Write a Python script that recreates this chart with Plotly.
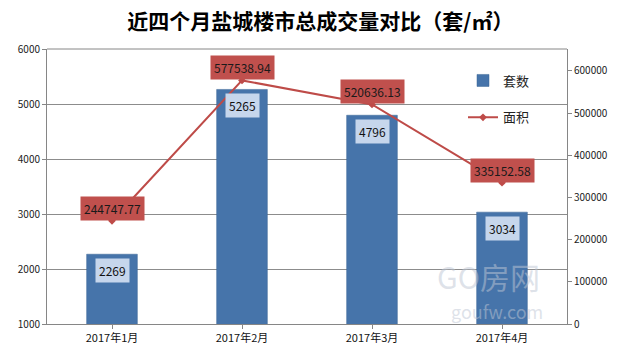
import plotly.graph_objects as go

categories = ["2017年1月", "2017年2月", "2017年3月", "2017年4月"]
units = [2269, 5265, 4796, 3034]
area = [244747.77, 577538.94, 520636.13, 335152.58]
left_ticks = [1000, 2000, 3000, 4000, 5000, 6000]
right_ticks = [0, 100000, 200000, 300000, 400000, 500000, 600000]

FONT = "Noto Sans CJK SC, Microsoft YaHei, sans-serif"

fig = go.Figure()
fig.add_trace(go.Bar(
    x=categories, y=units, name="套数", yaxis="y",
    marker=dict(color="#4674aa", line=dict(color="#3b6494", width=0.5)),
    width=0.39, legendgroup="a",
))
fig.add_trace(go.Scatter(
    x=categories, y=area, name="面积", yaxis="y2", mode="lines+markers",
    line=dict(color="#be4b48", width=2),
    marker=dict(symbol="diamond", size=6, color="#be4b48"),
    legendgroup="b",
))

annotations = []
# watermark (drawn first, behind)
annotations.append(dict(
    text="GO房网", x=0.952, y=0.087, xref="paper", yref="paper", showarrow=False,
    font=dict(family=FONT, size=30, color="rgba(190,198,212,0.5)"),
))
annotations.append(dict(
    text="goufw.com", x=0.957, y=-0.007, xref="paper", yref="paper", showarrow=False,
    font=dict(family=FONT, size=18, color="rgba(190,198,212,0.5)"),
))
for c, v in zip(categories, units):
    annotations.append(dict(
        x=c, y=v, xref="x", yref="y", text=str(v), showarrow=False,
        yanchor="top", yshift=-4, bgcolor="#c6d6ec", borderpad=3,
        font=dict(family=FONT, size=12, color="#111111"),
    ))
for c, v in zip(categories, area):
    annotations.append(dict(
        x=c, y=v, xref="x", yref="y2", text=f"{v:.2f}", showarrow=False,
        yanchor="bottom", yshift=0, bgcolor="#c0504d", borderpad=3,
        font=dict(family=FONT, size=12, color="#1a1a1a"),
    ))

fig.update_layout(
    width=622, height=360,
    margin=dict(l=47, r=55, t=49, b=36, autoexpand=False),
    paper_bgcolor="white", plot_bgcolor="white",
    font=dict(family=FONT, size=10, color="#222222"),
    title=dict(text="<b>近四个月盐城楼市总成交量对比（套/㎡）</b>",
               x=0.515, xref="container", xanchor="center",
               y=0.94, yref="container", yanchor="middle",
               font=dict(family=FONT, size=21, color="#000000")),
    showlegend=True,
    legend=dict(x=0.80, y=0.94, xanchor="left", yanchor="top",
                bgcolor="rgba(0,0,0,0)", tracegroupgap=17,
                font=dict(family=FONT, size=13, color="#222222")),
    xaxis=dict(showline=True, linecolor="#868686", ticks="outside",
               tickcolor="#868686", ticklen=4, showgrid=False, automargin=False,
               tickfont=dict(family=FONT, size=11, color="#111111")),
    yaxis=dict(range=[1000, 6000], tickvals=left_ticks, showline=True,
               linecolor="#868686", gridcolor="#8c8c8c", gridwidth=1,
               ticks="outside", tickcolor="#868686", ticklen=4, automargin=False,
               tickfont=dict(size=10, color="#222222"), zeroline=False),
    yaxis2=dict(range=[0, 652000], tickvals=right_ticks,
                ticktext=[str(t) for t in right_ticks], overlaying="y",
                side="right", showline=True, linecolor="#868686",
                ticks="outside", tickcolor="#868686", ticklen=4, automargin=False,
                showgrid=False, zeroline=False,
                tickfont=dict(size=10, color="#222222")),
    annotations=annotations,
    shapes=[dict(type="line", xref="paper", yref="paper", x0=0, x1=1, y0=1, y1=1,
                 line=dict(color="#868686", width=1))],
)

fig.write_html("out.html", config={"displayModeBar": False},
               post_script="document.body.style.margin='0px';document.body.style.padding='0px';")
